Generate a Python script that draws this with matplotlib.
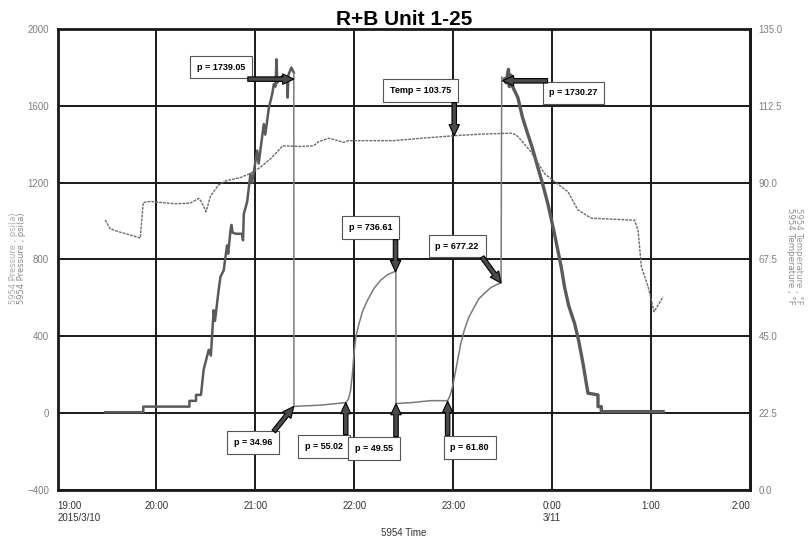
import matplotlib
matplotlib.use("Agg")
import matplotlib.pyplot as plt
import pandas as pd

# all times are minutes after 2015/3/10 19:00
ramp_up_min = [29, 52, 52, 80, 80, 84, 84, 87, 88.6, 91.7, 93, 94.7, 95.5, 97.7, 98.8, 100.8,
               102.8, 103.5, 104.9, 105.5, 106.2, 108, 111.9, 112.5, 113, 115, 117, 118, 121.1, 122,
               125.1, 126, 128.2, 130.2, 131.2, 132.2, 132.8, 133.3, 135.2, 137, 139.3, 139.6, 140,
               141.8, 143.3]
ramp_up_psi = [5, 5, 34, 34, 64, 64, 95, 95, 225, 330, 300, 536, 480, 640, 709, 744,
               873, 830, 951, 980, 940, 934, 934, 900, 1038, 1100, 1245, 1200, 1367, 1300,
               1505, 1450, 1591, 1661, 1713, 1700, 1842, 1720, 1747, 1760, 1730, 1643, 1760,
               1799, 1773]

shutin_min = [143.3, 143.4, 160, 175, 176.5, 177.8, 178.8, 179.8, 181, 182.9, 185, 188, 192, 196,
              200, 205.2, 205.3, 215, 226, 236.6, 238, 239.6, 241, 242.7, 244.5, 246.7, 249.5,
              252.8, 255.5, 258.8, 263, 269, 269.4]
shutin_psi = [1773, 35, 42, 55, 75, 121, 200, 311, 400, 467, 530, 588, 650, 692,
              720, 740, 50, 55, 65, 65, 90, 138, 200, 277, 360, 432, 500,
              553, 595, 623, 655, 680, 1750]

ramp_down_min = [271, 272, 273.5, 274, 275, 276, 279.2, 282, 285.2, 288, 291.3, 294, 297.4, 301.4,
                 305.5, 307.5, 310, 313.6, 316, 318.7, 321.7, 327.8, 327.8, 329.8, 329.8, 367.3]
ramp_down_psi = [1740, 1720, 1790, 1700, 1760, 1700, 1643, 1540, 1453, 1380, 1280, 1200, 1090, 934,
                 761, 657, 560, 467, 380, 259, 104, 95, 34, 34, 8, 8]

temp_min = [28.9, 31.9, 38, 50.2, 52, 56.2, 71.4, 80.5, 85.6, 87.2, 90.1, 92.7, 97.6, 101.8, 110.9,
            117, 123, 129.2, 133.2, 136.5, 147.4, 155.3, 158.4, 164.4, 168.7, 173.5, 176.5, 203.9,
            220.3, 240.6, 256.8, 275, 278.1, 281.1, 287.2, 295.3, 301.4, 309.5, 315.6, 323.7, 350,
            352.1, 354.1, 358.2, 361.8, 367.3]
temp_f = [79.1, 76.5, 75.5, 73.8, 84.2, 84.5, 83.8, 84, 85.4, 84.5, 81.5, 86, 89.3, 90.5, 91.5,
          92.7, 94.5, 97, 99, 100.8, 100.6, 100.8, 102, 103, 102.5, 101.8, 102.3, 102.3,
          103, 103.75, 104.2, 104.5, 104, 102.5, 99, 92.7, 90.3, 87.4, 82, 79.6, 79,
          76, 65.4, 59.5, 52.2, 56.6]

# annotations: (minutes, value, label, arrow tail offset px, box centre offset px)
psi_notes = [
    (143.3, 1739.05, "p = 1739.05", (-46, 0), (-73, 12)),
    (269.9, 1730.27, "p = 1730.27", (45, 0), (71, -12)),
    (205.0, 736.61, "p = 736.61", (0, 32), (-25, 44)),
    (269.0, 677.22, "p = 677.22", (-19, 26), (-44, 37)),
    (143.3, 34.96, "p = 34.96", (-20, -25), (-41, -36)),
    (174.8, 55.02, "p = 55.02", (0, -32), (-22, -44)),
    (205.3, 49.55, "p = 49.55", (0, -33), (-22, -45)),
    (236.6, 61.80, "p = 61.80", (0, -34), (22, -46)),
]
temp_notes = [(240.6, 103.75, "Temp = 103.75", (0, 33), (-34, 45))]

x_ticks_min = [0, 60, 120, 180, 240, 300, 360, 420]
x_tick_labels = ["19:00\n2015/3/10", "20:00", "21:00", "22:00", "23:00", "0:00\n3/11", "1:00", "2:00"]
psi_ticks = [-400, 0, 400, 800, 1200, 1600, 2000]
temp_ticks = [0, 22.5, 45, 67.5, 90, 112.5, 135]

base = pd.Timestamp("2015-03-10 19:00")


def to_time(mins):
    return base + pd.to_timedelta(pd.Series(mins, dtype=float), unit="min")


narrow = ["Liberation Sans Narrow", "Liberation Sans", "DejaVu Sans"]
plt.rcParams["font.family"] = narrow

fig = plt.figure(figsize=(8.09, 5.41), dpi=100)
ax = fig.add_axes([0.0711, 0.0943, 0.8560, 0.8521])
ax2 = ax.twinx()

ax.plot(to_time(ramp_up_min), ramp_up_psi, color="#5a5a5a", lw=1.8)
ax.plot(to_time(shutin_min), shutin_psi, color="#7a7a7a", lw=1.1)
ax.plot(to_time(ramp_down_min), ramp_down_psi, color="#5a5a5a", lw=2.4)
ax2.plot(to_time(temp_min), temp_f, color="#6a6a6a", lw=1.0, ls=(0, (2, 0.8)))

ax.set_xlim(base, base + pd.Timedelta(minutes=420))
ax.set_ylim(-400, 2000)
ax2.set_ylim(0, 135)

xt = to_time(x_ticks_min)
ax.set_xticks(xt)
ax.set_xticklabels(x_tick_labels)
for i, lab in enumerate(ax.get_xticklabels()):
    if i == 0:
        lab.set_ha("left")
    elif i == len(x_ticks_min) - 1:
        lab.set_ha("right")
    else:
        lab.set_ha("center")
    lab.set_multialignment("left")
ax.set_yticks(psi_ticks)
ax2.set_yticks(temp_ticks)
ax2.set_yticklabels(["%.1f" % t for t in temp_ticks])

ax.tick_params(axis="both", length=0, labelsize=7, labelcolor="#7f7f7f", pad=6)
ax.tick_params(axis="x", labelcolor="#333333", pad=8)
ax2.tick_params(axis="y", length=0, labelsize=7, labelcolor="#7f7f7f", pad=6)

ax.grid(True, color="#1a1a1a", lw=1.4)
ax.set_axisbelow(True)
for sp in ax.spines.values():
    sp.set_linewidth(2)
    sp.set_color("#1a1a1a")
for sp in ax2.spines.values():
    sp.set_visible(False)
ax2.spines["right"].set_visible(True)
ax2.spines["right"].set_linewidth(2)
ax2.spines["right"].set_color("#1a1a1a")

ax.set_title("R+B Unit 1-25", fontsize=15, fontweight="bold", pad=3)
ax.set_xlabel("5954 Time", fontsize=7, color="#333333", labelpad=4)

# doubled axis labels, as in the original chart
lab_font = dict(rotation=90, va="center", ha="center", fontsize=6, family="DejaVu Sans")
fig.text(14 / 809, 1 - 258 / 541, "5954 Pressure , psi(a)", color="#aaaaaa", **lab_font)
fig.text(22 / 809, 1 - 258 / 541, "5954 Pressure , psi(a)", color="#888888", **lab_font)
lab_font["rotation"] = 270
lab_font["fontsize"] = 6.2
fig.text(791 / 809, 1 - 256 / 541, "5954 Temperature , °F", color="#8a8a8a", **lab_font)
fig.text(799 / 809, 1 - 256 / 541, "5954 Temperature , °F", color="#999999", **lab_font)

box = dict(boxstyle="square,pad=0.75", fc="white", ec="#555555", lw=0.8)
arrow = dict(arrowstyle="simple,head_width=0.75,head_length=0.8,tail_width=0.32",
             fc="#4a4a4a", ec="black", lw=0.8, shrinkA=0, shrinkB=0)


def note(axis, m, v, text, tail, centre):
    tip = (base + pd.Timedelta(minutes=m), v)
    axis.annotate(text, xy=tip, xytext=centre, textcoords="offset pixels",
                  ha="center", va="center", fontsize=6.5, fontweight="bold",
                  bbox=box, zorder=5)
    axis.annotate("", xy=tip, xytext=tail, textcoords="offset pixels",
                  arrowprops=arrow, zorder=6)


for m, v, text, tail, centre in psi_notes:
    note(ax2, m, (v + 400) * 135 / 2400, text, tail, centre)
for m, v, text, tail, centre in temp_notes:
    note(ax2, m, v, text, tail, centre)

fig.savefig("out.png", dpi=100)
